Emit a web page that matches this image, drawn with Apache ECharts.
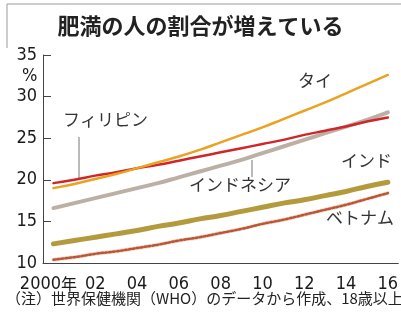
<!DOCTYPE html>
<html>
<head>
<meta charset="utf-8">
<script src="https://cdn.jsdelivr.net/npm/echarts@6/dist/echarts.min.js"></script>
<style>
  html, body { margin: 0; padding: 0; background: #fff; }
  #main { width: 401px; height: 316px; }
</style>
</head>
<body>
<div id="main"></div>
<script>
// 肥満率(%) 2000-2016, WHO
const years = ['2000', '2001', '2002', '2003', '2004', '2005', '2006', '2007', '2008',
  '2009', '2010', '2011', '2012', '2013', '2014', '2015', '2016'];
const yTicks = [10, 15, 20, 25, 30, 35];

const thai = [19.0, 19.5, 20.1, 20.7, 21.4, 22.1, 22.8, 23.6, 24.5, 25.4, 26.3, 27.3, 28.3, 29.3, 30.4, 31.5, 32.6];
const philippines = [19.6, 20.0, 20.5, 20.9, 21.4, 21.8, 22.3, 22.8, 23.3, 23.8, 24.3, 24.8, 25.4, 25.9, 26.4, 27.0, 27.5];
const indonesia = [16.6, 17.2, 17.8, 18.4, 19.0, 19.6, 20.3, 21.0, 21.7, 22.4, 23.2, 24.0, 24.8, 25.6, 26.4, 27.2, 28.1];
const india = [12.3, 12.7, 13.1, 13.5, 13.9, 14.4, 14.8, 15.3, 15.7, 16.2, 16.7, 17.2, 17.6, 18.1, 18.6, 19.2, 19.7];
const vietnam = [10.4, 10.7, 11.1, 11.4, 11.8, 12.2, 12.7, 13.1, 13.6, 14.1, 14.7, 15.2, 15.8, 16.4, 17.0, 17.7, 18.4];

const numFont = "'Liberation Sans Narrow', 'DejaVu Sans Condensed', sans-serif";
const jpFont = "'Noto Sans CJK JP', sans-serif";

let myChart = echarts.init(document.getElementById('main'));

function lineSeries (name, data, color, width, type) {
    return {
        name: name,
        type: 'line',
        data: data,
        symbol: 'none',
        smooth: true,
        silent: true,
        lineStyle: { color: color, width: width, type: type || 'solid', cap: 'round' }
    };
}

function label (text, x, y) {
    return {
        type: 'text', left: x, top: y,
        style: { text: text, font: '17px ' + jpFont, fill: '#333' }
    };
}

function stick (x, y1, y2) {
    return {
        type: 'line',
        shape: { x1: x, y1: y1, x2: x, y2: y2 },
        style: { stroke: '#777', lineWidth: 1 }
    };
}

myChart.setOption({
    animation: false,
    backgroundColor: '#fff',
    grid: { left: 43, top: 55, width: 360, height: 208 },
    xAxis: {
        type: 'category',
        data: years,
        boundaryGap: true,
        axisLine: { lineStyle: { color: '#444', width: 1 } },
        axisTick: { inside: true, length: 5, interval: 0, alignWithLabel: true, lineStyle: { color: '#444' } },
        axisLabel: {
            interval: 1,
            margin: 12,
            color: '#1a1a1a',
            fontSize: 18,
            fontFamily: numFont,
            formatter: function (v, i) {
                return i === 0 ? '{a|2000}{b|年}' : v.slice(2);
            },
            rich: {
                a: { fontSize: 18, fontFamily: numFont, color: '#1a1a1a' },
                b: { fontSize: 16, fontFamily: jpFont, color: '#1a1a1a', padding: [0, 10, 0, 0] }
            }
        },
        splitLine: { show: false }
    },
    yAxis: {
        type: 'value',
        min: yTicks[0],
        max: yTicks[yTicks.length - 1],
        interval: 5,
        axisLine: { show: true, lineStyle: { color: '#444', width: 1 } },
        axisTick: { show: true, inside: true, length: 8, lineStyle: { color: '#444' } },
        axisLabel: { margin: 6, color: '#1a1a1a', fontSize: 18, fontFamily: numFont },
        splitLine: { show: false }
    },
    series: [
        lineSeries('ベトナム下地', vietnam, '#f3dcc6', 4),
        lineSeries('ベトナム', vietnam, '#b8553a', 2.5, [2, 2]),
        lineSeries('インド', india, '#b39a3c', 5),
        lineSeries('インドネシア', indonesia, '#bcb0a4', 4),
        lineSeries('フィリピン', philippines, '#d0262a', 2.5),
        lineSeries('タイ', thai, '#e9a222', 2.5)
    ],
    graphic: [
        { type: 'line', shape: { x1: 7, y1: 4, x2: 401, y2: 4 }, style: { stroke: '#999', lineWidth: 1 } },
        { type: 'line', shape: { x1: 7, y1: 4, x2: 7, y2: 48 }, style: { stroke: '#999', lineWidth: 1 } },
        {
            type: 'text', left: 'center', top: 15,
            style: { text: '肥満の人の割合が増えている', font: 'bold 22px ' + jpFont, fill: '#222' }
        },
        {
            type: 'text', left: 22, top: 67,
            style: { text: '%', font: '18px ' + numFont, fill: '#1a1a1a' }
        },
        label('タイ', 298, 72),
        label('フィリピン', 63, 111),
        stick(79, 137, 178),
        label('インドネシア', 189, 176),
        stick(252, 160, 177),
        label('インド', 341, 152),
        label('ベトナム', 326, 209),
        {
            type: 'text', left: 6, top: 291,
            style: { text: '（注）世界保健機関（WHO）のデータから作成、18歳以上', font: '15px ' + jpFont, fill: '#222' }
        }
    ]
});
</script>
</body>
</html>
